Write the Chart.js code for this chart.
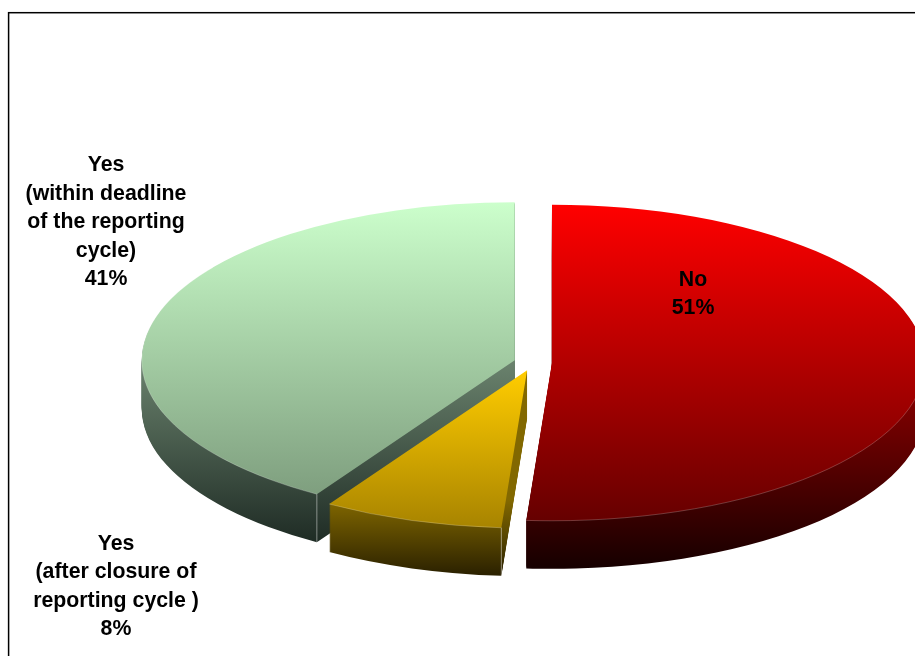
<!DOCTYPE html>
<html>
<head>
<meta charset="utf-8">
<title>Reporting cycle</title>
<style>
html, body { margin: 0; background: #fff; overflow: hidden; }
canvas { display: block; }
</style>
<script src="https://cdn.jsdelivr.net/npm/chart.js@4"></script>
</head>
<body>
<canvas id="grafico" width="915" height="656"></canvas>
<script>
const categories = [
    ['No'],
    ['Yes', '(after closure of', 'reporting cycle )'],
    ['Yes', '(within deadline', 'of the reporting', 'cycle)']
];
const values = [51.1, 7.8, 41.1];

// top colour, bottom colour and screen y range, one per slice
const topColors = [['#ff0000', '#660000'], ['#ffcc00', '#a88400'], ['#ccffcc', '#7f9f7f']];
const topRange = [[205, 520], [372, 527], [202, 493]];
const wallColors = [['#800000', '#160000'], ['#826800', '#2c2200'], ['#6b836e', '#1f2c25']];
const wallRange = [[400, 568], [500, 574], [360, 541]];
const labelPos = [[693, 280], [116, 544], [106, 165.5]];

const squash = 0.4236;
const depth = 48;
const explode = 19;

const canvas = document.querySelector('#grafico');

// shift of one slice from the pie centre, in screen pixels
function sliceShift(arc) {
    const mid = (arc.startAngle + arc.endAngle) / 2;
    return { x: Math.cos(mid) * explode, y: Math.sin(mid) * explode * squash };
}

function drawSlice(ctx, arc, range, colors, drop) {
    const shift = sliceShift(arc);
    const ty = shift.y + drop;
    const g = ctx.createLinearGradient(0, arc.y + (range[0] - ty - arc.y) / squash, 0, arc.y + (range[1] - ty - arc.y) / squash);
    g.addColorStop(0, colors[0]);
    g.addColorStop(1, colors[1]);
    const saved = arc.options;
    ctx.save();
    ctx.translate(shift.x, ty);
    ctx.translate(arc.x, arc.y);
    ctx.scale(1, squash);
    ctx.translate(-arc.x, -arc.y);
    arc.options = { backgroundColor: g, borderWidth: 0, borderRadius: 0, spacing: 0, offset: 0, circular: true };
    arc.draw(ctx);
    arc.options = saved;
    ctx.restore();
}

function drawRim(ctx, arc) {
    const shift = sliceShift(arc);
    ctx.save();
    ctx.translate(shift.x, shift.y);
    ctx.translate(arc.x, arc.y);
    ctx.scale(1, squash);
    ctx.beginPath();
    ctx.arc(0, 0, arc.outerRadius, Math.max(arc.startAngle, 0), Math.min(arc.endAngle, Math.PI * 1.2));
    ctx.restore();
    ctx.strokeStyle = 'rgba(255,255,255,0.22)';
    ctx.lineWidth = 1;
    ctx.stroke();
}

const pie3d = {
    id: 'pie3d',
    beforeDatasetDraw() {
        return false;
    },
    afterDatasetsDraw(chart) {
        const ctx = chart.ctx;
        const arcs = chart.getDatasetMeta(0).data;

        // walls back to front, tops last
        [2, 0, 1].forEach((i) => {
            for (let s = depth; s >= 1; s--) {
                drawSlice(ctx, arcs[i], wallRange[i], wallColors[i], s);
            }
        });
        [2, 0, 1].forEach((i) => {
            drawSlice(ctx, arcs[i], topRange[i], topColors[i], 0);
            drawRim(ctx, arcs[i]);
        });

        // thin light edge where the outer wall starts
        [1, 2].forEach((i) => {
            const arc = arcs[i];
            const shift = sliceShift(arc);
            const x = arc.x + shift.x + Math.cos(arc.startAngle) * arc.outerRadius;
            const y = arc.y + shift.y + Math.sin(arc.startAngle) * arc.outerRadius * squash;
            ctx.save();
            ctx.strokeStyle = 'rgba(255,255,255,0.45)';
            ctx.lineWidth = 1;
            ctx.beginPath();
            ctx.moveTo(x, y);
            ctx.lineTo(x, y + depth);
            ctx.stroke();
            ctx.restore();
        });
    },
    afterDraw(chart) {
        const ctx = chart.ctx;
        ctx.save();
        // frame runs off the right and bottom of the picture
        ctx.strokeStyle = '#000';
        ctx.lineWidth = 1.5;
        ctx.strokeRect(8.6, 12.7, 1000, 1000);

        ctx.fillStyle = '#000';
        ctx.font = 'bold 21.3px "Liberation Sans"';
        ctx.textAlign = 'center';
        ctx.textBaseline = 'middle';
        categories.forEach((lines, i) => {
            const all = lines.concat(Math.round(values[i]) + '%');
            all.forEach((line, n) => {
                ctx.fillText(line, labelPos[i][0], labelPos[i][1] + n * 28.4);
            });
        });
        ctx.restore();
    }
};

const config = {
    type: 'pie',
    data: {
        labels: categories.map((c) => c.join(' ')),
        datasets: [{
            data: values,
            clip: false,
            borderWidth: 0,
            backgroundColor: topColors.map((c) => c[0])
        }]
    },
    options: {
        responsive: false,
        animation: false,
        events: [],
        radius: 373,
        layout: { padding: { left: 151, top: 69 } },
        plugins: { legend: { display: false }, tooltip: { enabled: false } }
    },
    plugins: [pie3d]
};

new Chart(canvas, config);
</script>
</body>
</html>
